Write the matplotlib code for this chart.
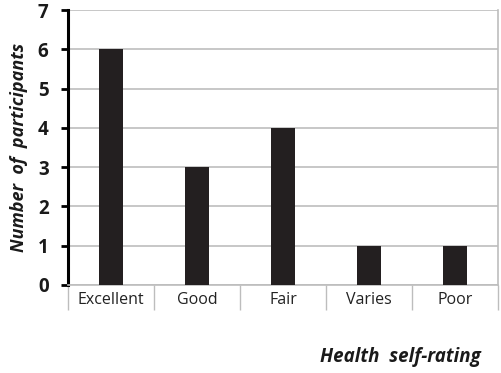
import matplotlib
matplotlib.use("Agg")
from matplotlib import pyplot as plt
import numpy as np

categories = ["Excellent", "Good", "Fair", "Varies", "Poor"]
counts = [6, 3, 4, 1, 1]
y_ticks = [0, 1, 2, 3, 4, 5, 6, 7]

plt.rcParams['font.family'] = ['Open Sans', 'DejaVu Sans']

fig = plt.figure(figsize=(5.02, 3.73), dpi=100)
ax = fig.add_axes([0.1355, 0.236, 0.8565, 0.737])

x = np.arange(len(categories))
ax.bar(x, counts, width=0.29, color="#231f20", zorder=3)

ax.set_xlim(-0.5, len(categories) - 0.5)
ax.set_ylim(0, 7)
ax.set_yticks(y_ticks)
ax.set_yticklabels([str(v) for v in y_ticks], fontsize=13.5, fontweight="bold",
                   color="#1a1a1a")
ax.yaxis.grid(True, color="#bdbdbd", linewidth=1.2, zorder=0)

# category labels centred, separators as long minor ticks
ax.set_xticks(x)
ax.set_xticklabels(categories, fontsize=11.5, color="#222222")
ax.tick_params(axis="x", which="major", length=0, pad=5)
ax.set_xticks(np.arange(len(categories) + 1) - 0.5, minor=True)
ax.tick_params(axis="x", which="minor", length=18, width=1.0, color="#bdbdbd")

ax.tick_params(axis="y", which="major", length=5, width=2, color="black", pad=9)

ax.spines["left"].set_linewidth(2.2)
ax.spines["left"].set_color("black")
ax.spines["bottom"].set_color("#bdbdbd")
ax.spines["bottom"].set_linewidth(1.2)
ax.spines["right"].set_color("#bdbdbd")
ax.spines["right"].set_linewidth(1.2)
ax.spines["top"].set_visible(False)

ax.set_ylabel("Number  of  participants", fontsize=13, fontweight="bold",
              fontstyle="italic", labelpad=7, color="#1a1a1a")
fig.text(0.797, 0.043, "Health  self-rating", fontsize=13.5, fontweight="bold",
         fontstyle="italic", ha="center", va="center", color="#1a1a1a")

fig.savefig("out.png", dpi=100)
